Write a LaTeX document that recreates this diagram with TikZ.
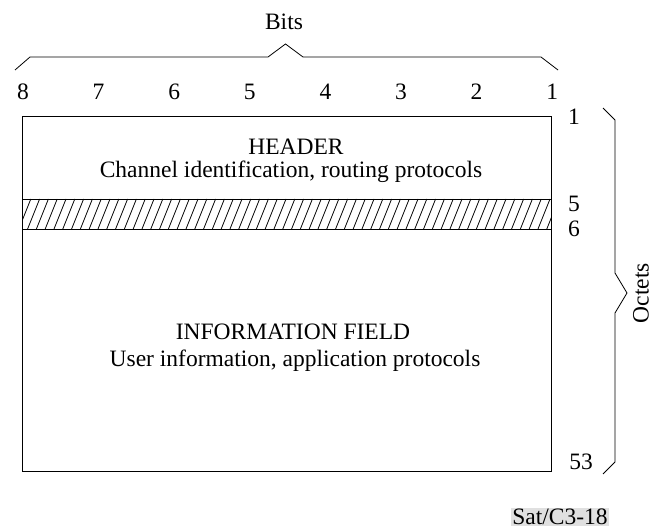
\documentclass[tikz,border=0pt]{standalone}
\usepackage{fontspec}
\setmainfont{Liberation Serif}
\begin{document}
\begin{tikzpicture}[x=1pt,y=-1pt,
  lbl/.style={inner sep=0pt,font=\fontsize{23.5}{27}\selectfont},
  frame/.style={draw,line width=0.8pt},
  bracel/.style={draw,line width=0.8pt,line join=miter}]
\useasboundingbox (0,0) rectangle (655,529);
% title
\node[lbl] (bits) at (284,22) {Bits};
% top brace
\draw[bracel] (15,70) -- (30,57) -- (268,57) -- (285.5,44) -- (303,57) -- (541,57) -- (558,70);
% bit numbers
\foreach \n [count=\i from 0] in {8,7,6,5,4,3,2,1}
  \node[lbl] (b\n) at ({23+\i*75.6},92) {\n};
% hatch band
\begin{scope}
\clip (22,199) rectangle (551,229);
\foreach \k in {0,...,64}
  \draw[line width=0.8pt] ({10+\k*8.8},229) -- ({22+\k*8.8},199);
\end{scope}
% main box
\node[frame,minimum width=529pt,minimum height=355pt,inner sep=0pt,anchor=north west] (box) at (22,116) {};
\draw[line width=0.8pt] (22,199) -- (551,199);
\draw[line width=0.8pt] (22,229) -- (551,229);
% texts
\node[lbl] (hdr) at (296,147) {HEADER};
\node[lbl] (hdr2) at (291,172) {Channel identification, routing protocols};
\node[lbl] (inf) at (293,332) {INFORMATION FIELD};
\node[lbl] (inf2) at (295,361) {User information, application protocols};
% octet numbers
\node[lbl] (o1) at (574,117) {1};
\node[lbl] (o5) at (574,204) {5};
\node[lbl] (o6) at (574,229) {6};
\node[lbl] (o53) at (581,462) {53};
% right brace
\draw[bracel] (603,108) -- (615,120) -- (615,273) -- (627,293) -- (615,313) -- (615,462) -- (603,474);
\node[lbl,rotate=90] (oct) at (641,293) {Octets};
% reference tag
\node[lbl,fill=black!12,inner sep=1pt] (tag) at (560,517) {Sat/C3-18};
\end{tikzpicture}
\end{document}
